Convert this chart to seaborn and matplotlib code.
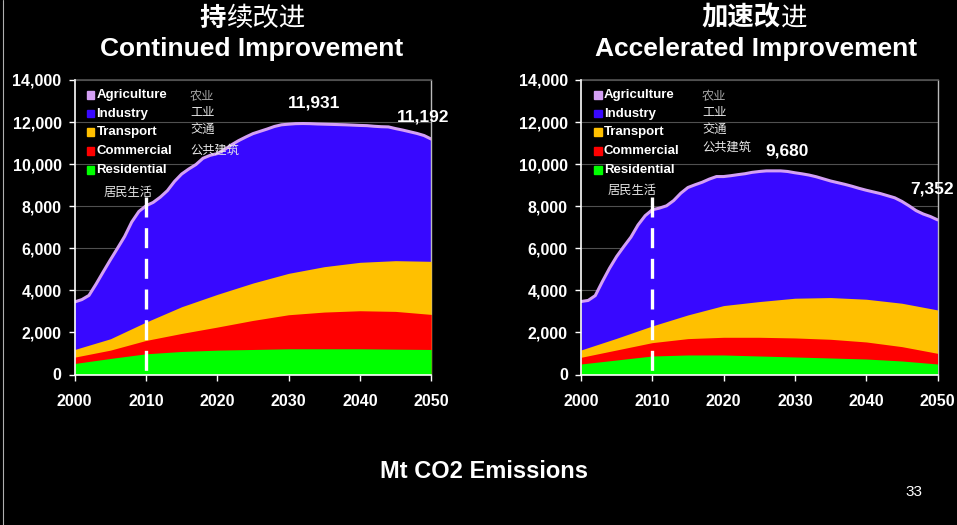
import numpy as np
import pandas as pd
import seaborn as sns
import matplotlib.pyplot as plt
from matplotlib.patches import Rectangle
from matplotlib.lines import Line2D

# ---------------- data ----------------
years = list(range(2000, 2051))
years_5 = list(range(2000, 2051, 5))

# total emissions (top of stack, Mt CO2)
total_continued = [3450, 3560, 3760, 4300, 4880, 5450, 6000, 6560, 7250, 7750,
                   8020, 8180, 8430, 8740, 9180, 9530, 9770, 9980, 10280, 10420,
                   10500, 10690, 10920, 11120, 11290, 11450, 11560, 11670, 11790, 11870,
                   11900, 11925, 11931, 11925, 11910, 11900, 11890, 11880, 11870, 11855,
                   11840, 11830, 11800, 11780, 11770, 11690, 11620, 11540, 11460, 11360,
                   11192]
total_accelerated = [3470, 3520, 3750, 4420, 5050, 5610, 6080, 6530, 7110, 7550,
                     7830, 7910, 8020, 8270, 8620, 8890, 9020, 9140, 9290, 9410,
                     9410, 9450, 9500, 9545, 9610, 9650, 9680, 9680, 9680, 9650,
                     9590, 9540, 9480, 9400, 9300, 9200, 9120, 9040, 8950, 8850,
                     8760, 8680, 8600, 8500, 8400, 8230, 8020, 7790, 7630, 7510,
                     7352]

# sector emissions every five years (Mt CO2)
residential_continued = [524, 762, 984, 1095, 1158, 1190, 1222, 1222, 1222, 1205, 1190]
commercial_continued = [301, 396, 635, 857, 1096, 1381, 1619, 1746, 1809, 1795, 1667]
transport_continued = [365, 540, 873, 1270, 1555, 1777, 1968, 2158, 2302, 2412, 2523]

residential_accelerated = [500, 690, 880, 928, 928, 880, 833, 785, 737, 643, 500]
commercial_accelerated = [317, 476, 635, 778, 841, 889, 905, 889, 810, 682, 507]
transport_accelerated = [349, 556, 794, 1127, 1508, 1698, 1888, 1984, 2032, 2063, 2063]

sectors = ["Agriculture", "Industry", "Transport", "Commercial", "Residential"]
sectors_cn = ["农业", "工业", "交通", "公共建筑", "居民生活"]
sector_colors = ["#D4A0F4", "#3808FF", "#FFC000", "#FF0000", "#00FF00"]

peak_labels = {"continued": (2032, 11931, 2050, 11192),
               "accelerated": (2027, 9680, 2050, 7352)}

# ---------------- style ----------------
sns.set_theme(style="dark", rc={"axes.facecolor": "black", "figure.facecolor": "black"})
plt.rcParams["font.family"] = ["Liberation Sans", "Noto Sans CJK SC", "DejaVu Sans"]

W, H = 957, 525
fig = plt.figure(figsize=(W / 100, H / 100), dpi=100)
fig.patch.set_facecolor("black")


def fx(x):
    return x / W


def fy(y):
    return 1 - y / H


CJK = ["Noto Sans CJK SC", "DejaVu Sans"]


def draw_panel(left_px, total, res, com, tra, label_key, legend_x, cn_x, cn_ys, cn_res_xy,
               lbl_pos):
    ax = fig.add_axes([fx(left_px), fy(374.5), (356.5) / W, 294.5 / H])
    ax.set_facecolor("black")

    df = pd.DataFrame({"year": years, "total": total})
    d5 = pd.DataFrame({"year": years_5, "res": res, "com": com, "tra": tra})
    d5["res_top"] = d5["res"]
    d5["com_top"] = d5["res"] + d5["com"]
    d5["tra_top"] = d5["com_top"] + d5["tra"]

    ax.fill_between(df["year"], 0, df["total"], color=sector_colors[1], lw=0, zorder=2)
    ax.fill_between(d5["year"], 0, d5["tra_top"], color=sector_colors[2], lw=0, zorder=3)
    ax.fill_between(d5["year"], 0, d5["com_top"], color=sector_colors[3], lw=0, zorder=4)
    ax.fill_between(d5["year"], 0, d5["res_top"], color=sector_colors[4], lw=0, zorder=5)
    sns.lineplot(data=df, x="year", y="total", ax=ax, color=sector_colors[0], lw=2.2,
                 zorder=6, legend=False)

    # 2010 marker
    ax.plot([2010, 2010], [8450, 0], color="white", lw=2.4, dashes=(6, 3.2), zorder=7,
            solid_capstyle="butt", dash_capstyle="butt")

    ax.set_xlim(2000, 2050)
    ax.set_ylim(0, 14000)
    ax.set_xticks(range(2000, 2051, 10))
    ax.set_yticks(range(0, 14001, 2000))
    ax.set_yticklabels([f"{v:,}" for v in range(0, 14001, 2000)])
    ax.set_xlabel("")
    ax.set_ylabel("")
    ax.grid(False)
    for v in range(2000, 14001, 2000):
        ax.axhline(v, color="#505050", lw=0.8, zorder=1)
    ax.tick_params(axis="both", colors="white", length=4, width=1, direction="out",
                   labelsize=11.5, bottom=True, left=True)
    ax.tick_params(axis="y", pad=5.5)
    ax.tick_params(axis="x", pad=10)
    for lab in ax.get_xticklabels() + ax.get_yticklabels():
        lab.set_fontweight("bold")
        lab.set_color("white")
    for side in ["left", "bottom"]:
        ax.spines[side].set_color("white")
        ax.spines[side].set_linewidth(1.2)
        ax.spines[side].set_zorder(8)
    ax.spines["right"].set_color("#bbbbbb")
    ax.spines["top"].set_color("#505050")
    ax.spines["right"].set_linewidth(1.0)

    # legend
    rows_y = [95, 113.5, 132, 151, 170]
    for name, col, yy in zip(sectors, sector_colors, rows_y):
        fig.patches.append(Rectangle((fx(legend_x), fy(yy + 3.6)), 7.5 / W, 7.5 / H,
                                     transform=fig.transFigure, color=col))
        fig.text(fx(legend_x + 10), fy(yy), name, color="white", fontsize=9.5,
                 fontweight="bold", va="center", ha="left")
    for name, yy, c in zip(sectors_cn[:4], cn_ys, ["#a8a8a8", "#e8e8e8", "#e8e8e8", "#e8e8e8"]):
        fig.text(fx(cn_x), fy(yy), name, color=c, fontsize=8.8, family=CJK,
                 va="center", ha="left")
    fig.text(fx(cn_res_xy[0]), fy(cn_res_xy[1]), sectors_cn[4], color="#e8e8e8",
             fontsize=8.8, family=CJK, va="center", ha="left")

    # value labels
    _, peak, _, end = peak_labels[label_key]
    (px1, py1), (px2, py2) = lbl_pos
    fig.text(fx(px1), fy(py1), f"{peak:,}", color="white", fontsize=12.5,
             fontweight="bold", ha="center", va="center")
    fig.text(fx(px2), fy(py2), f"{end:,}", color="white", fontsize=12.5,
             fontweight="bold", ha="center", va="center")
    return ax


draw_panel(74.7, total_continued, residential_continued, commercial_continued,
           transport_continued, "continued", 86.5, 190, [97, 113, 129, 150], (104, 192),
           ((314, 103), (423, 117)))
draw_panel(581, total_accelerated, residential_accelerated, commercial_accelerated,
           transport_accelerated, "accelerated", 594, 702, [97, 113, 129, 147], (608, 190),
           ((787.5, 151), (932, 189)))

# panel titles
fig.text(fx(226), fy(18), "持", color="white", fontsize=19, fontweight="bold",
         family=CJK, ha="right", va="center")
fig.text(fx(226), fy(18), "续改进", color="white", fontsize=19, family=CJK,
         ha="left", va="center")
fig.text(fx(252), fy(49), "Continued Improvement", color="white", fontsize=19,
         fontweight="bold", ha="center", va="center")

fig.text(fx(781), fy(18), "加速改", color="white", fontsize=19, fontweight="bold",
         family=CJK, ha="right", va="center")
fig.text(fx(781), fy(18), "进", color="white", fontsize=19, family=CJK,
         ha="left", va="center")
fig.text(fx(756), fy(49), "Accelerated Improvement", color="white", fontsize=19,
         fontweight="bold", ha="center", va="center")

fig.text(fx(484), fy(471), "Mt CO2 Emissions", color="white", fontsize=17,
         fontweight="bold", ha="center", va="center")
fig.text(fx(914), fy(492), "33", color="white", fontsize=11, ha="center", va="center")

# slide edge
fig.add_artist(Line2D([fx(3), fx(3)], [0, 1], transform=fig.transFigure,
                      color="#b0b0b0", lw=0.8))

fig.savefig("out.png", dpi=100, facecolor="black")
